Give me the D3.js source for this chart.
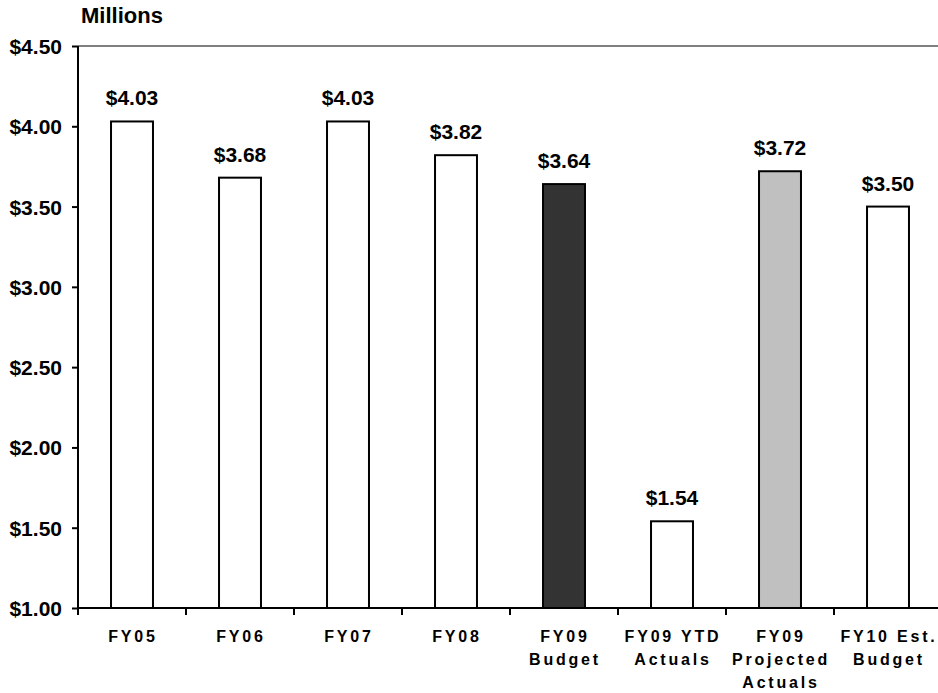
<!DOCTYPE html>
<html>
<head>
<meta charset="utf-8">
<script src="https://cdn.jsdelivr.net/npm/d3@7"></script>
<style>
  body { margin: 0; background: #fff; }
  svg { display: block; }
  text { font-family: Arial, "Liberation Sans", sans-serif; font-weight: bold; fill: #000; }
</style>
</head>
<body>
<svg id="chart" width="938" height="693"></svg>
<script>
// ---- data ----
const categories = [
  ["FY05"],
  ["FY06"],
  ["FY07"],
  ["FY08"],
  ["FY09", "Budget"],
  ["FY09 YTD", "Actuals"],
  ["FY09", "Projected", "Actuals"],
  ["FY10 Est.", "Budget"]
];
const values = [4.03, 3.68, 4.03, 3.82, 3.64, 1.54, 3.72, 3.50];
const fills = ["#ffffff", "#ffffff", "#ffffff", "#ffffff", "#333333", "#ffffff", "#c0c0c0", "#ffffff"];
const yTicks = [1.0, 1.5, 2.0, 2.5, 3.0, 3.5, 4.0, 4.5];
const yTitle = "Millions";

// ---- layout ----
const svg = d3.select("#chart");
const mLeft = 78, mRight = 942, mTop = 46, mBottom = 608;

const x = d3.scaleBand().domain(d3.range(categories.length)).range([mLeft, mRight]).paddingInner(0.593).paddingOuter(0.2965);
const y = d3.scaleLinear().domain([1.0, 4.5]).range([mBottom, mTop]);

// top gray gridline at max
svg.append("line")
  .attr("x1", mLeft).attr("x2", mRight)
  .attr("y1", y(4.5)).attr("y2", y(4.5))
  .attr("stroke", "#808080").attr("stroke-width", 2);

// bars
svg.append("g").selectAll("rect").data(values).join("rect")
  .attr("x", (d, i) => x(i) + 1)
  .attr("width", x.bandwidth() - 2)
  .attr("y", d => y(d))
  .attr("height", d => y(1.0) - y(d))
  .attr("fill", (d, i) => fills[i])
  .attr("stroke", "#000").attr("stroke-width", 2);

// value labels
svg.append("g").selectAll("text").data(values).join("text")
  .attr("x", (d, i) => x(i) + x.bandwidth() / 2)
  .attr("y", d => y(d) - 16)
  .attr("text-anchor", "middle")
  .attr("font-size", 21)
  .text(d => d3.format("$.2f")(d));

// y axis
const yAxis = d3.axisLeft(y).tickValues(yTicks).tickFormat(d3.format("$.2f")).tickSize(6).tickPadding(10);
const gy = svg.append("g").attr("transform", `translate(${mLeft},0)`).call(yAxis);
gy.select(".domain").attr("stroke", "#000").attr("stroke-width", 2).attr("d", `M0,${mTop}V${mBottom}`);
gy.selectAll(".tick line").attr("stroke", "#000").attr("stroke-width", 2);
gy.selectAll(".tick text").attr("font-size", 21).attr("font-family", "Arial, 'Liberation Sans', sans-serif").attr("font-weight", "bold").attr("fill", "#000").attr("dy", "0.36em");

// x axis line and ticks at band boundaries
svg.append("line")
  .attr("x1", mLeft).attr("x2", mRight)
  .attr("y1", mBottom).attr("y2", mBottom)
  .attr("stroke", "#000").attr("stroke-width", 2);
const step = x.step();
svg.append("g").selectAll("line").data(d3.range(categories.length + 1)).join("line")
  .attr("x1", i => mLeft + i * step).attr("x2", i => mLeft + i * step)
  .attr("y1", mBottom).attr("y2", mBottom + 7)
  .attr("stroke", "#000").attr("stroke-width", 2);

// category labels
const cg = svg.append("g").selectAll("text").data(categories).join("text")
  .attr("text-anchor", "middle")
  .attr("font-size", 16)
  .attr("letter-spacing", 2.8)
  .attr("y", 642);
cg.each(function(lines, i) {
  const t = d3.select(this);
  lines.forEach((ln, k) => {
    t.append("tspan")
      .attr("x", x(i) + x.bandwidth() / 2 + 1)
      .attr("dy", k === 0 ? 0 : 23)
      .text(ln);
  });
});

// axis title
svg.append("text")
  .attr("x", 81).attr("y", 23)
  .attr("font-size", 22)
  .text(yTitle);
</script>
</body>
</html>
